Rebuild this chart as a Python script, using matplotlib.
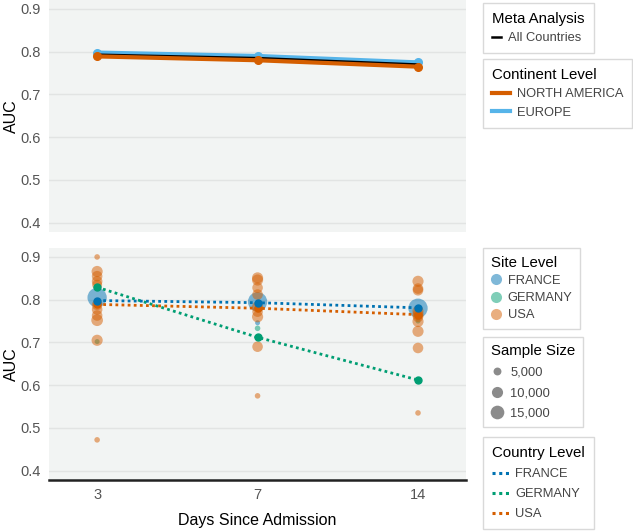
import matplotlib.pyplot as plt
from matplotlib.lines import Line2D
import numpy as np

plt.rcParams['font.family'] = ['Liberation Sans', 'DejaVu Sans']

days = ['3', '7', '14']
xpos = [0, 1, 2]

# top panel
meta_auc = [0.793, 0.785, 0.770]
europe_auc = [0.798, 0.790, 0.775]
namerica_auc = [0.789, 0.780, 0.765]

# country level
country_france = [0.798, 0.793, 0.781]
country_germany = [0.829, 0.712, 0.612]
country_usa = [0.789, 0.780, 0.765]

# site level
usa_x = [0] * 11 + [1] * 9 + [2] * 10
usa_auc = [0.900, 0.866, 0.855, 0.843, 0.835, 0.788, 0.777, 0.763, 0.752, 0.705, 0.472,
           0.851, 0.846, 0.828, 0.812, 0.783, 0.772, 0.760, 0.690, 0.575,
           0.843, 0.826, 0.822, 0.773, 0.765, 0.760, 0.749, 0.726, 0.687, 0.535]
usa_n = [2500, 10000, 9000, 9000, 8000, 9000, 9000, 9000, 11000, 10000, 2500,
         10000, 10000, 9000, 9000, 10000, 9000, 10000, 9000, 2500,
         10000, 9000, 9000, 10000, 10000, 9000, 10000, 10000, 9000, 2500]
france_x = [0, 1, 1, 2]
france_auc = [0.805, 0.795, 0.746, 0.780]
france_n = [30000, 30000, 2000, 30000]
germany_x = [0, 0, 1, 1, 2, 2]
germany_auc = [0.829, 0.702, 0.733, 0.712, 0.612, 0.750]
germany_n = [3000, 2000, 2500, 3000, 3000, 2000]

legend_sizes = [5000, 10000, 15000]

BLUE = '#0072B2'
SKY = '#56B4E9'
GREEN = '#009E73'
ORANGE = '#D55E00'
BG = '#f2f4f3'
GRID = '#e2e4e3'
SCALE = 155  # sample size -> marker area (pt^2)


def style_axis(ax):
    ax.set_facecolor(BG)
    for s in ax.spines.values():
        s.set_visible(False)
    ax.set_xlim(-0.3, 2.3)
    ax.set_ylim(0.378, 0.921)
    ax.set_yticks([0.4, 0.5, 0.6, 0.7, 0.8, 0.9])
    ax.yaxis.grid(True, color=GRID, lw=1)
    ax.set_axisbelow(True)
    ax.tick_params(length=0, labelsize=10.5, labelcolor='#555555', pad=6)
    ax.set_ylabel('AUC', fontsize=11.5, labelpad=1)


fig = plt.figure(figsize=(6.33, 5.31), dpi=100)
ax1 = fig.add_axes([0.0774, 0.563, 0.659, 0.437])
ax2 = fig.add_axes([0.0774, 0.096, 0.659, 0.437])

style_axis(ax1)
ax1.set_xticks(xpos)
ax1.set_xticklabels([])
ax1.plot(xpos, europe_auc, color=SKY, lw=3, marker='o', ms=5.5)
ax1.plot(xpos, meta_auc, color='black', lw=1.8)
ax1.plot(xpos, namerica_auc, color=ORANGE, lw=3, marker='o', ms=5.5)

style_axis(ax2)
ax2.set_xticks(xpos)
ax2.set_xticklabels(days)
ax2.spines['bottom'].set_visible(True)
ax2.spines['bottom'].set_color('#222222')
ax2.spines['bottom'].set_linewidth(1.8)
ax2.set_xlabel('Days Since Admission', fontsize=11.5, labelpad=8)

ax2.scatter(france_x, france_auc, s=np.array(france_n) / SCALE, color=BLUE, alpha=0.5, lw=0)
ax2.scatter(germany_x, germany_auc, s=np.array(germany_n) / SCALE, color=GREEN, alpha=0.5, lw=0)
ax2.scatter(usa_x, usa_auc, s=np.array(usa_n) / SCALE, color=ORANGE, alpha=0.5, lw=0)

ax2.plot(xpos, country_germany, color=GREEN, lw=2, ls=(0, (1, 1.2)), marker='o', ms=5)
ax2.plot(xpos, country_usa, color=ORANGE, lw=2, ls=(0, (1, 1.2)), marker='o', ms=5)
ax2.plot(xpos, country_france, color=BLUE, lw=2, ls=(0, (1, 1.2)), marker='o', ms=5)

leg_kw = dict(loc='upper left', frameon=True, fancybox=False, edgecolor='#d0d0d0',
              fontsize=9.3, title_fontsize=10.8, alignment='left', borderpad=0.7,
              labelspacing=0.5, handletextpad=0.5, borderaxespad=0)


def add_legend(handles, labels, title, y, **kw):
    opts = dict(leg_kw)
    opts.update(kw)
    leg = fig.legend(handles, labels, title=title, bbox_to_anchor=(0.763, y), **opts)
    for t in leg.get_texts():
        t.set_color('#444444')
    leg.get_frame().set_linewidth(1)
    return leg


add_legend([Line2D([], [], color='black', lw=1.8)], ['All Countries'],
           'Meta Analysis', 0.995, handlelength=0.7)
add_legend([Line2D([], [], color=ORANGE, lw=3), Line2D([], [], color=SKY, lw=3)],
           ['NORTH AMERICA', 'EUROPE'], 'Continent Level', 0.889, handlelength=1.4)
add_legend([Line2D([], [], color=c, marker='o', ls='', ms=8, alpha=0.5, mew=0)
            for c in [BLUE, GREEN, ORANGE]],
           ['FRANCE', 'GERMANY', 'USA'], 'Site Level', 0.533, handlelength=0.8,
           labelspacing=0.4, borderpad=0.6)
add_legend([Line2D([], [], color='#777777', marker='o', ls='', ms=np.sqrt(n / SCALE) * 1.0,
                   alpha=0.85, mew=0)
            for n in legend_sizes],
           ['5,000', '10,000', '15,000'], 'Sample Size', 0.366, handlelength=1.0,
           labelspacing=0.65, borderpad=0.6)
add_legend([Line2D([], [], color=c, lw=2.2, ls=(0, (1, 1.2))) for c in [BLUE, GREEN, ORANGE]],
           ['FRANCE', 'GERMANY', 'USA'], 'Country Level', 0.177, handlelength=1.3,
           labelspacing=0.62)

fig.savefig('out.png', dpi=100)
